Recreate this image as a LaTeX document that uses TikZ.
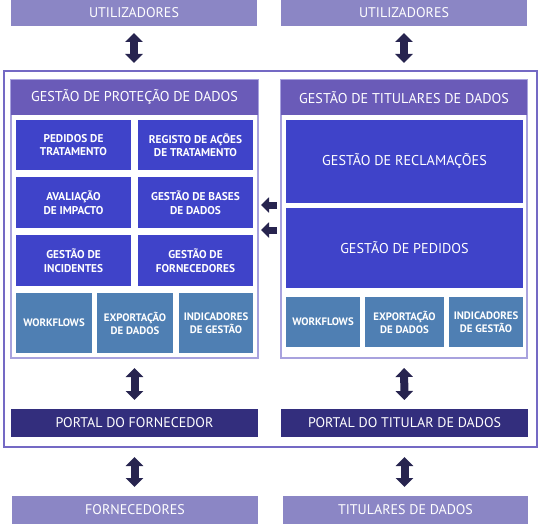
\documentclass[tikz,border=0pt]{standalone}
\usepackage{fontspec}
\setmainfont{PT Sans}
\usetikzlibrary{arrows.meta}
\definecolor{lav}{HTML}{8B86C5}
\definecolor{hdr}{HTML}{6A5BB8}
\definecolor{blu}{HTML}{3F43C9}
\definecolor{stl}{HTML}{4F7FB3}
\definecolor{prt}{HTML}{332E7D}
\definecolor{arr}{HTML}{27244F}
\definecolor{frm}{HTML}{7469C4}
\definecolor{pnl}{HTML}{A8A2DE}
\tikzset{
  box/.style={anchor=north west, inner sep=0pt, outer sep=0pt, text=white, align=center},
  lavbox/.style={box, fill=lav, font=\fontsize{14}{16}\selectfont},
  hdrbox/.style={box, fill=hdr, font=\fontsize{14.2}{16}\selectfont},
  blubox/.style={box, fill=blu, font=\bfseries\fontsize{11.3}{13.5}\selectfont},
  bigblu/.style={box, fill=blu, font=\fontsize{14.2}{16}\selectfont},
  stlbox/.style={box, fill=stl, font=\bfseries\fontsize{10.8}{13}\selectfont},
  prtbox/.style={box, fill=prt, font=\fontsize{14}{16}\selectfont},
  panel/.style={anchor=north west, inner sep=0pt, outer sep=0pt, draw=pnl, line width=1.3pt, fill=white},
  frame/.style={anchor=north west, inner sep=0pt, outer sep=0pt, draw=frm, line width=1.6pt},
  vdbl/.style={draw=arr, line width=8pt, {Triangle[width=17pt,length=9pt]}-{Triangle[width=17pt,length=9pt]}},
  larr/.style={draw=arr, line width=7pt, -{Triangle[width=15pt,length=8pt]}},
}
\begin{document}
\begin{tikzpicture}[x=1pt,y=-1pt]
\useasboundingbox (0,0) rectangle (540,524);
% outer frame
\node[frame, minimum width=533pt, minimum height=376pt] (frame) at (4,71) {};
% top
\node[lavbox, minimum width=246pt, minimum height=26pt] (util1) at (11,0) {UTILIZADORES};
\node[lavbox, minimum width=246pt, minimum height=26pt] (util2) at (281,0) {UTILIZADORES};
% left panel
\node[panel, minimum width=247pt, minimum height=278pt] (lp) at (11,80) {};
\node[hdrbox, minimum width=247pt, minimum height=35pt] (lph) at (11,80) {GESTÃO DE PROTEÇÃO DE DADOS};
\node[blubox, minimum width=115pt, minimum height=50pt] (b11) at (16,120) {PEDIDOS DE\\TRATAMENTO};
\node[blubox, minimum width=115pt, minimum height=50pt] (b12) at (138,120) {REGISTO DE AÇÕES\\DE TRATAMENTO};
\node[blubox, minimum width=115pt, minimum height=51pt] (b21) at (16,177) {AVALIAÇÃO\\DE IMPACTO};
\node[blubox, minimum width=115pt, minimum height=51pt] (b22) at (138,177) {GESTÃO DE BASES\\DE DADOS};
\node[blubox, minimum width=115pt, minimum height=51pt] (b31) at (16,235) {GESTÃO DE\\INCIDENTES};
\node[blubox, minimum width=115pt, minimum height=51pt] (b32) at (138,235) {GESTÃO DE\\FORNECEDORES};
\node[stlbox, minimum width=76pt, minimum height=60pt] (s1) at (16,293) {WORKFLOWS};
\node[stlbox, minimum width=76pt, minimum height=60pt] (s2) at (97,293) {EXPORTAÇÃO\\DE DADOS};
\node[stlbox, minimum width=74pt, minimum height=60pt] (s3) at (179,293) {INDICADORES\\DE GESTÃO};
% right panel
\node[panel, minimum width=246pt, minimum height=278pt] (rp) at (281,80) {};
\node[hdrbox, minimum width=246pt, minimum height=35pt] (rph) at (281,80) {GESTÃO DE TITULARES DE DADOS};
\node[bigblu, minimum width=237pt, minimum height=83pt] (rec) at (286,120) {GESTÃO DE RECLAMAÇÕES};
\node[bigblu, minimum width=237pt, minimum height=80pt] (ped) at (286,208) {GESTÃO DE PEDIDOS};
\node[stlbox, minimum width=74pt, minimum height=50pt] (t1) at (286,297) {WORKFLOWS};
\node[stlbox, minimum width=79pt, minimum height=50pt] (t2) at (365,297) {EXPORTAÇÃO\\DE DADOS};
\node[stlbox, minimum width=74pt, minimum height=50pt] (t3) at (449,297) {INDICADORES\\DE GESTÃO};
% portals
\node[prtbox, minimum width=247pt, minimum height=28pt] (p1) at (11,409) {PORTAL DO FORNECEDOR};
\node[prtbox, minimum width=247pt, minimum height=28pt] (p2) at (281,409) {PORTAL DO TITULAR DE DADOS};
% bottom
\node[lavbox, minimum width=246pt, minimum height=28pt] (forn) at (12,496) {FORNECEDORES};
\node[lavbox, minimum width=245pt, minimum height=28pt] (tit) at (283,496) {TITULARES DE DADOS};
% arrows
\draw[vdbl, shorten <=7pt, shorten >=8pt] (util1.south) -- (util1.south |- frame.north);
\draw[vdbl, shorten <=7pt, shorten >=8pt] (util2.south) -- (util2.south |- frame.north);
\draw[vdbl, shorten <=10pt, shorten >=9pt] (lp.south) -- (p1.north);
\draw[vdbl, shorten <=10pt, shorten >=9pt] (rp.south) -- (p2.north);
\draw[vdbl, shorten <=10pt, shorten >=9pt] (p1.south |- frame.south) -- (forn.north -| p1.south);
\draw[vdbl, shorten <=10pt, shorten >=9pt] (p2.south |- frame.south) -- (tit.north -| p2.south);
\coordinate (c1) at (270,205);
\coordinate (c2) at (270,230);
\draw[larr, shorten <=4pt, shorten >=3pt] (rp.west |- c1) -- (lp.east |- c1);
\draw[larr, shorten <=4pt, shorten >=3pt] (rp.west |- c2) -- (lp.east |- c2);
\end{tikzpicture}
\end{document}
